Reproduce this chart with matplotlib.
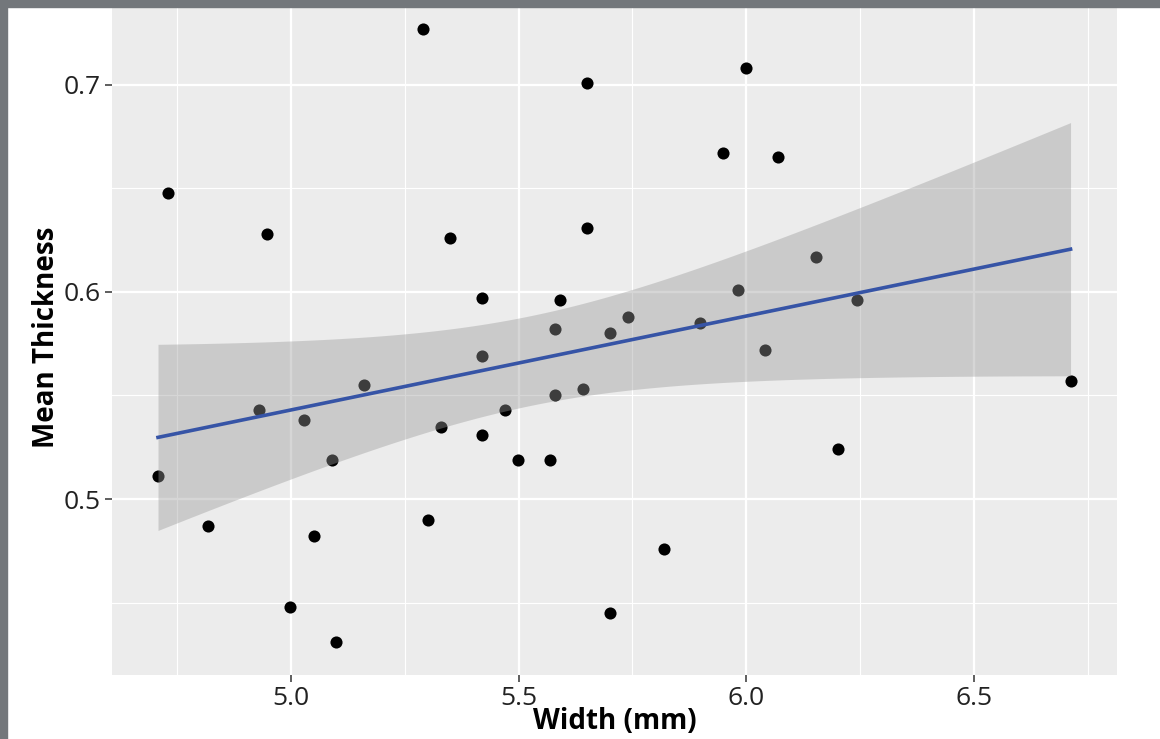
import numpy as np
import matplotlib.pyplot as plt

width_mm = [5.290, 5.651, 6.000, 4.730, 5.949, 6.070, 4.947, 5.349, 5.651, 6.152,
            5.420, 5.591, 5.982, 5.741, 5.580, 5.701, 5.899, 6.242, 6.042, 5.420,
            5.160, 5.642, 5.580, 6.712, 4.930, 5.470, 5.029, 5.330, 5.420, 4.708,
            5.090, 5.499, 5.569, 6.202, 4.818, 5.301, 5.051, 5.820, 4.998, 5.701,
            5.099]
mean_thickness = [0.727, 0.701, 0.708, 0.648, 0.667, 0.665, 0.628, 0.626, 0.631, 0.617,
                  0.597, 0.596, 0.601, 0.588, 0.582, 0.580, 0.585, 0.596, 0.572, 0.569,
                  0.555, 0.553, 0.550, 0.557, 0.543, 0.543, 0.538, 0.535, 0.531, 0.511,
                  0.519, 0.519, 0.519, 0.524, 0.487, 0.490, 0.482, 0.476, 0.448, 0.445,
                  0.431]
x_ticks = [5.0, 5.5, 6.0, 6.5]
y_ticks = [0.5, 0.6, 0.7]

x = np.array(width_mm)
y = np.array(mean_thickness)

# linear fit with 95% confidence band (like geom_smooth(method="lm"))
n = len(x)
slope, intercept = np.polyfit(x, y, 1)
resid = y - (slope * x + intercept)
s = np.sqrt(np.sum(resid**2) / (n - 2))
T975 = 2.023
xs = np.linspace(x.min(), x.max(), 200)
ys = slope * xs + intercept
se = s * np.sqrt(1 / n + (xs - x.mean())**2 / np.sum((x - x.mean())**2))

plt.rcParams['font.family'] = ['Open Sans', 'DejaVu Sans']

fig = plt.figure(figsize=(11.6, 7.39), dpi=100)
ax = fig.add_axes([112 / 1160, 1 - 675 / 739, (1117 - 112) / 1160, 675 / 739])
ax.set_facecolor('#ECECEC')

ax.scatter(x, y, s=76, color='black', linewidths=0, zorder=3)
ax.fill_between(xs, ys - T975 * se, ys + T975 * se, color='#999999', alpha=0.4,
                linewidth=0, zorder=4)
ax.plot(xs, ys, color='#3654A6', linewidth=2.6, zorder=5)

ax.set_xlim(4.607, 6.814)
ax.set_ylim(0.415, 0.741)
ax.set_xticks(x_ticks)
ax.set_xticklabels([f'{v:.1f}' for v in x_ticks])
ax.set_yticks(y_ticks)
ax.set_yticklabels([f'{v:.1f}' for v in y_ticks])
ax.set_xticks([4.75, 5.25, 5.75, 6.25, 6.75], minor=True)
ax.set_yticks([0.45, 0.55, 0.65], minor=True)

ax.grid(True, which='major', color='white', linewidth=1.6, zorder=0)
ax.grid(True, which='minor', color='white', linewidth=0.8, zorder=0)
ax.set_axisbelow(True)
for sp in ax.spines.values():
    sp.set_visible(False)

ax.tick_params(which='major', length=5, width=1.1, color='#333333',
               labelsize=19, labelcolor='#222222', pad=3)
ax.tick_params(which='minor', length=0)

ax.set_xlabel('Width (mm)', fontsize=20, fontweight='bold', labelpad=-3)
ax.set_ylabel('Mean Thickness', fontsize=20, fontweight='bold', labelpad=2)

# grey frame from the screenshot
fig.patches.append(plt.Rectangle((0, 1 - 7 / 739), 1, 7 / 739, transform=fig.transFigure,
                                 color='#73777B', zorder=10))
fig.patches.append(plt.Rectangle((0, 0), 7 / 1160, 1, transform=fig.transFigure,
                                 color='#73777B', zorder=10))

plt.savefig('out.png', dpi=100)
